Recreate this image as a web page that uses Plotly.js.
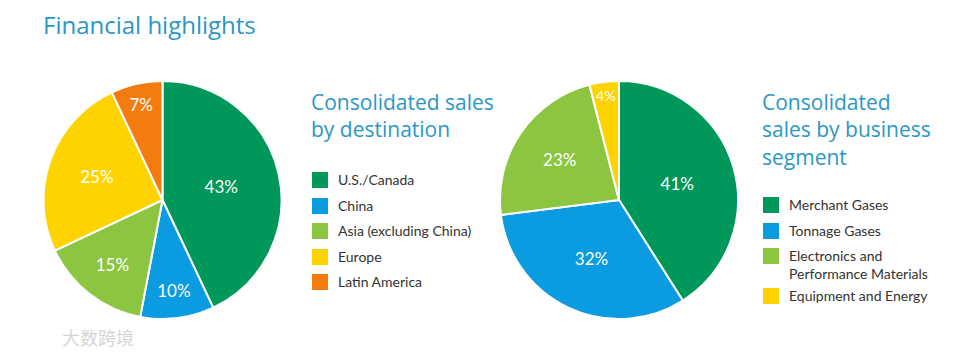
<!DOCTYPE html>
<html><head><meta charset="utf-8">
<script src="https://cdn.plot.ly/plotly-3.0.1.min.js"></script>
<style>html,body{margin:0;padding:0;background:#fff}</style>
</head><body><div id="chart" style="width:978px;height:354px"></div>
<script>
const destLabels = ["U.S./Canada", "China", "Asia (excluding China)", "Europe", "Latin America"];
const destValues = [43, 10, 15, 25, 7];
const segLabels = ["Merchant Gases", "Tonnage Gases", "Electronics and<br>Performance Materials", "Equipment and Energy"];
const segValues = [41, 32, 23, 4];
const destColors = ["#00985a", "#0a9be0", "#8cc641", "#ffd300", "#f47b0e"];
const segColors = ["#00985a", "#0a9be0", "#8cc641", "#ffd300"];

const W = 978, H = 354;
const px = x => x / W, py = y => 1 - y / H;
const teal = "#2b97c6";
const HEAD = "'Open Sans', sans-serif";
const FONT = "Lato, 'Open Sans', sans-serif";

function pie(labels, values, colors, x0, x1) {
  return {
    type: "pie", labels: labels, values: values, sort: false, direction: "clockwise", rotation: 0,
    marker: {colors: colors, line: {color: "#ffffff", width: 2}},
    texttemplate: "%{value}%", textposition: "inside", insidetextorientation: "horizontal",
    textfont: {family: FONT, size: 17, color: "#ffffff"},
    domain: {x: [px(x0), px(x1)], y: [py(319), py(81)]},
    hoverinfo: "label+value", showlegend: false
  };
}

const shapes = [], annotations = [];
annotations.push({text: "Financial highlights", x: px(41), y: py(24), xref: "paper", yref: "paper",
  xanchor: "left", yanchor: "middle", showarrow: false, font: {family: HEAD, size: 24, color: teal}});

function legend(title, labels, colors, x, titleY, rowYs) {
  annotations.push({text: title, x: px(x - 3), y: py(titleY), xref: "paper", yref: "paper",
    xanchor: "left", yanchor: "top", align: "left", showarrow: false,
    font: {family: HEAD, size: 21, color: teal}});
  labels.forEach((l, i) => {
    const cy = rowYs[i];
    shapes.push({type: "rect", xref: "paper", yref: "paper", x0: px(x), x1: px(x + 16),
      y0: py(cy + 8), y1: py(cy - 8), fillcolor: colors[i], line: {width: 0}});
    annotations.push({text: l, x: px(x + 24), y: py(cy - 11), xref: "paper", yref: "paper",
      xanchor: "left", yanchor: "top", align: "left", showarrow: false,
      font: {family: FONT, size: 14, color: "#333333"}});
  });
}
legend("Consolidated sales<br>by destination", destLabels, destColors, 312, 86, [180, 206, 231, 257, 282]);
legend("Consolidated<br>sales by business<br>segment", segLabels, segColors, 763, 86, [205, 231, 256, 296]);

annotations.push({text: "大数跨境", x: px(60), y: py(337), xref: "paper", yref: "paper",
  xanchor: "left", yanchor: "middle", showarrow: false,
  font: {family: "'Noto Sans CJK SC', sans-serif", size: 18, color: "#d6d6d6"}});

Plotly.newPlot("chart", [
  pie(destLabels, destValues, destColors, 43, 282),
  pie(segLabels, segValues, segColors, 500, 738)
], {
  width: W, height: H, margin: {l: 0, r: 0, t: 0, b: 0},
  paper_bgcolor: "#ffffff", plot_bgcolor: "#ffffff",
  shapes: shapes, annotations: annotations
}, {displayModeBar: false, staticPlot: true});
</script></body></html>
